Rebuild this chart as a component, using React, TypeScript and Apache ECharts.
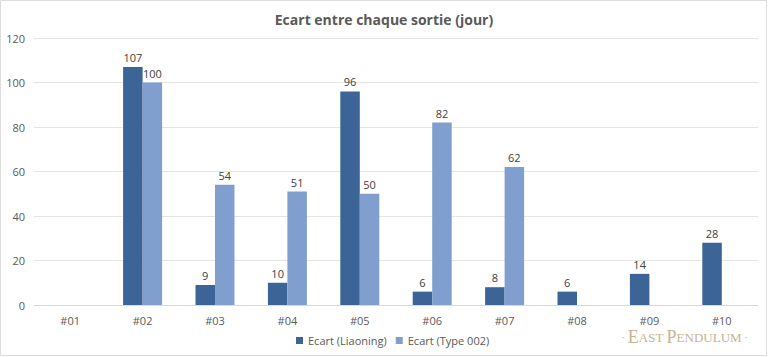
import React, { useEffect, useRef } from "react";
import * as echarts from "echarts";

const categories = ["#01", "#02", "#03", "#04", "#05", "#06", "#07", "#08", "#09", "#10"];
const liaoning: (number | null)[] = [null, 107, 9, 10, 96, 6, 8, 6, 14, 28];
const type002: (number | null)[] = [null, 100, 54, 51, 50, 82, 62, null, null, null];
const seriesNames = ["Ecart (Liaoning)", "Ecart (Type 002)"];
const titleText = "Ecart entre chaque sortie (jour)";

export default function App() {
  const ref = useRef<HTMLDivElement>(null);
  useEffect(() => {
    if (!ref.current) return;
    const chart = echarts.init(ref.current, null, { renderer: "svg" });
    const font = "'Open Sans', 'Noto Sans', sans-serif";
    const serif = "'Liberation Serif', 'DejaVu Serif', serif";
    const wm = "#c8b48e";
    chart.setOption({
      animation: false,
      backgroundColor: "#ffffff",
      textStyle: { fontFamily: font },
      title: {
        text: titleText,
        left: "center",
        top: 7,
        textStyle: { fontSize: 14, fontWeight: "bold", color: "#595959", fontFamily: font },
      },
      grid: { left: 34, right: 10, top: 38, bottom: 52 },
      legend: {
        bottom: 6,
        left: 291,
        itemWidth: 7,
        itemHeight: 7,
        itemGap: 9,
        icon: "rect",
        textStyle: { fontSize: 11, color: "#595959", fontFamily: font },
        data: seriesNames,
      },
      xAxis: {
        type: "category",
        data: categories,
        axisLine: { lineStyle: { color: "#d9d9d9" } },
        axisTick: { show: false },
        axisLabel: { color: "#595959", fontSize: 11, margin: 10 },
      },
      yAxis: {
        type: "value",
        min: 0,
        max: 120,
        interval: 20,
        axisLine: { show: false },
        axisTick: { show: false },
        axisLabel: { color: "#595959", fontSize: 11, margin: 9 },
        splitLine: { lineStyle: { color: "#e4e4e4" } },
      },
      series: [
        {
          name: seriesNames[0],
          type: "bar",
          data: liaoning,
          barWidth: 19.5,
          barGap: "0%",
          itemStyle: { color: "#3c6496" },
          label: { show: true, position: "top", color: "#404040", fontSize: 11, distance: 4 },
        },
        {
          name: seriesNames[1],
          type: "bar",
          data: type002,
          barWidth: 19.5,
          barGap: "0%",
          itemStyle: { color: "#809fcf" },
          label: { show: true, position: "top", color: "#404040", fontSize: 11, distance: 4 },
        },
      ],
      graphic: [
        {
          type: "rect",
          shape: { x: 0.5, y: 0.5, width: 766, height: 355 },
          style: { fill: "none", stroke: "#dcdcdc", lineWidth: 1 },
          silent: true,
        },
        {
          type: "text",
          right: 20,
          bottom: 11,
          style: {
            text: "{d|· }{b|E}{s|AST }{b|P}{s|ENDULUM}{d| ·}",
            rich: {
              d: { fontSize: 11, fill: wm, fontFamily: serif },
              b: { fontSize: 18, fill: wm, fontFamily: serif },
              s: { fontSize: 13, fill: wm, fontFamily: serif },
            },
          },
        },
      ],
    });
    return () => chart.dispose();
  }, []);
  return (
    <div
      ref={ref}
      style={{ position: "fixed", left: 0, top: 0, width: 768, height: 357 }}
    />
  );
}
